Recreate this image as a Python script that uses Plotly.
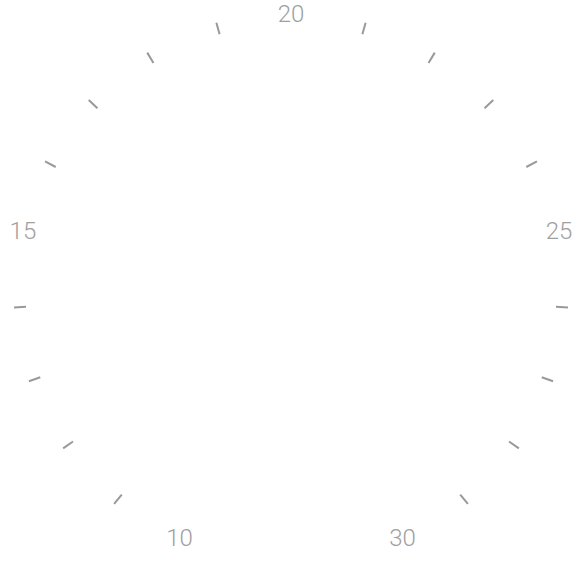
import plotly.graph_objects as go

# gauge scale: 10 .. 30, labels every 5, small ticks on each unit
major_vals = [10, 15, 20, 25, 30]
major_text = ['10', '15', '20', '25', '30']
minor_vals = [11, 12, 13, 14, 16, 17, 18, 19, 21, 22, 23, 24, 26, 27, 28, 29]

DEG_PER_UNIT = 15.6   # about 312 degrees for the 20 units
MID = 20              # value that sits at the top


def to_theta(v):
    return ((v - MID) * DEG_PER_UNIT) % 360


fig = go.Figure()

# labels sit on the same circle as the ticks
fig.add_trace(go.Scatterpolar(
    r=[0.986] * len(major_vals),
    theta=[to_theta(v) for v in major_vals],
    mode='text',
    text=major_text,
    textfont=dict(family='Roboto', size=24, color='#a0a0a0', weight=300),
    cliponaxis=False,
    hoverinfo='skip',
    showlegend=False,
))

fig.update_layout(
    width=584, height=584,
    margin=dict(l=12.5, r=14.5, t=11.5, b=15.5),
    paper_bgcolor='white',
    plot_bgcolor='white',
    showlegend=False,
    polar=dict(
        bgcolor='white',
        radialaxis=dict(visible=False, range=[0, 1]),
        angularaxis=dict(
            direction='clockwise',
            rotation=90,
            showline=False,
            showgrid=False,
            showticklabels=False,
            tickmode='array',
            tickvals=[to_theta(v) for v in minor_vals],
            ticks='inside',
            ticklen=12,
            tickwidth=1.8,
            tickcolor='#999999',
        ),
    ),
)

# drop the default body margin so the figure fills the window
fig.write_html("out.html", config={'displayModeBar': False},
               post_script="document.body.style.margin = '0';")
